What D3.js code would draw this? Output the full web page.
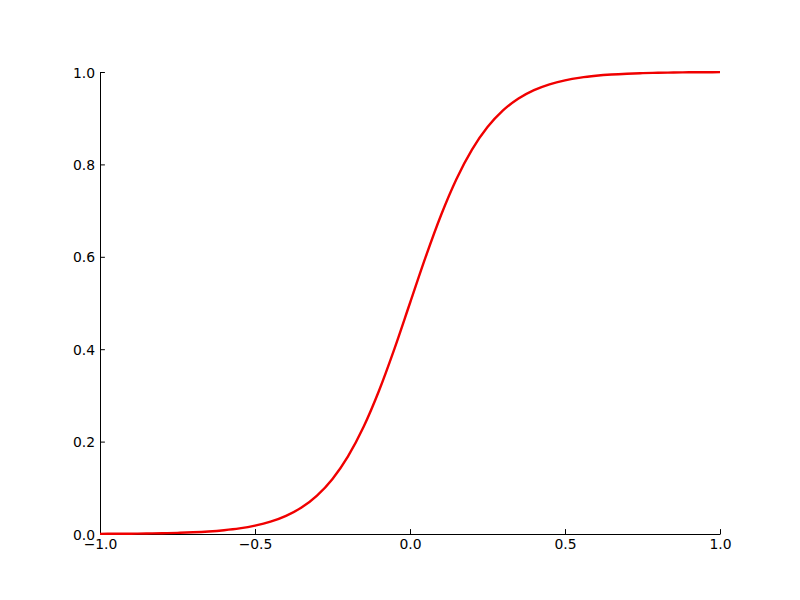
<!DOCTYPE html>
<html>
<head>
<meta charset="utf-8">
<script src="https://cdn.jsdelivr.net/npm/d3@7"></script>
<style>
  html, body { margin: 0; padding: 0; background: #fff; }
  text { font-family: "DejaVu Sans", sans-serif; }
</style>
</head>
<body>
<svg id="chart" width="800" height="600"></svg>
<script>
// Data
const xValues = [-1.00,-0.95,-0.90,-0.85,-0.80,-0.75,-0.70,-0.65,-0.60,-0.55,-0.50,-0.45,-0.40,-0.35,-0.30,-0.25,-0.20,-0.15,-0.10,-0.05,
                  0.00, 0.05, 0.10, 0.15, 0.20, 0.25, 0.30, 0.35, 0.40, 0.45, 0.50, 0.55, 0.60, 0.65, 0.70, 0.75, 0.80, 0.85, 0.90, 0.95, 1.00];
const yValues = [0.0003,0.0005,0.0007,0.0011,0.0017,0.0025,0.0037,0.0055,0.0082,0.0121,0.0180,0.0266,0.0392,0.0573,0.0832,0.1192,0.1680,0.2315,0.3100,0.4013,
                 0.5000,0.5987,0.6900,0.7685,0.8320,0.8808,0.9168,0.9427,0.9608,0.9734,0.9820,0.9879,0.9918,0.9945,0.9963,0.9975,0.9983,0.9989,0.9993,0.9995,0.9997];
const xTicks = [-1.0, -0.5, 0.0, 0.5, 1.0];
const yTicks = [0.0, 0.2, 0.4, 0.6, 0.8, 1.0];

const svg = d3.select("#chart");
const margin = {left: 100, right: 80, top: 72, bottom: 66};
const W = 800, H = 600;

const x = d3.scaleLinear().domain([-1, 1]).range([margin.left, W - margin.right]);
const y = d3.scaleLinear().domain([0, 1]).range([H - margin.bottom, margin.top]);

const fontSize = 13.9;
const tickLen = 4.9;
const pad = 4.9;
const fmt = v => d3.format(".1f")(v).replace("-", "\u2212");

// x axis (inward ticks)
const xAxis = d3.axisBottom(x).tickValues(xTicks).tickSizeInner(-tickLen).tickSizeOuter(0).tickPadding(pad).tickFormat(fmt);
const gx = svg.append("g").attr("transform", `translate(0,${y(0)})`).call(xAxis);
gx.select(".domain").attr("stroke", "#000").attr("stroke-width", 1);
gx.selectAll(".tick line").attr("stroke", "#000").attr("stroke-width", 1);
gx.selectAll(".tick text")
  .attr("font-size", fontSize)
  .attr("font-family", "DejaVu Sans")
  .attr("fill", "#000")
  .attr("y", pad)
  .attr("dy", "0.76em");

// y axis (inward ticks)
const yAxis = d3.axisLeft(y).tickValues(yTicks).tickSizeInner(-tickLen).tickSizeOuter(0).tickPadding(pad).tickFormat(fmt);
const gy = svg.append("g").attr("transform", `translate(${x(-1)},0)`).call(yAxis);
gy.select(".domain").attr("stroke", "#000").attr("stroke-width", 1);
gy.selectAll(".tick line").attr("stroke", "#000").attr("stroke-width", 1);
gy.selectAll(".tick text")
  .attr("font-size", fontSize)
  .attr("font-family", "DejaVu Sans")
  .attr("fill", "#000")
  .attr("x", -pad)
  .attr("dy", "0.36em");

// curve
const pts = xValues.map((v, i) => [v, yValues[i]]);
const line = d3.line().x(d => x(d[0])).y(d => y(d[1])).curve(d3.curveMonotoneX);
svg.append("path")
  .datum(pts)
  .attr("d", line)
  .attr("fill", "none")
  .attr("stroke", "#f00000")
  .attr("stroke-width", 2.4)
  .attr("stroke-linejoin", "round")
  .attr("stroke-linecap", "butt");
</script>
</body>
</html>
